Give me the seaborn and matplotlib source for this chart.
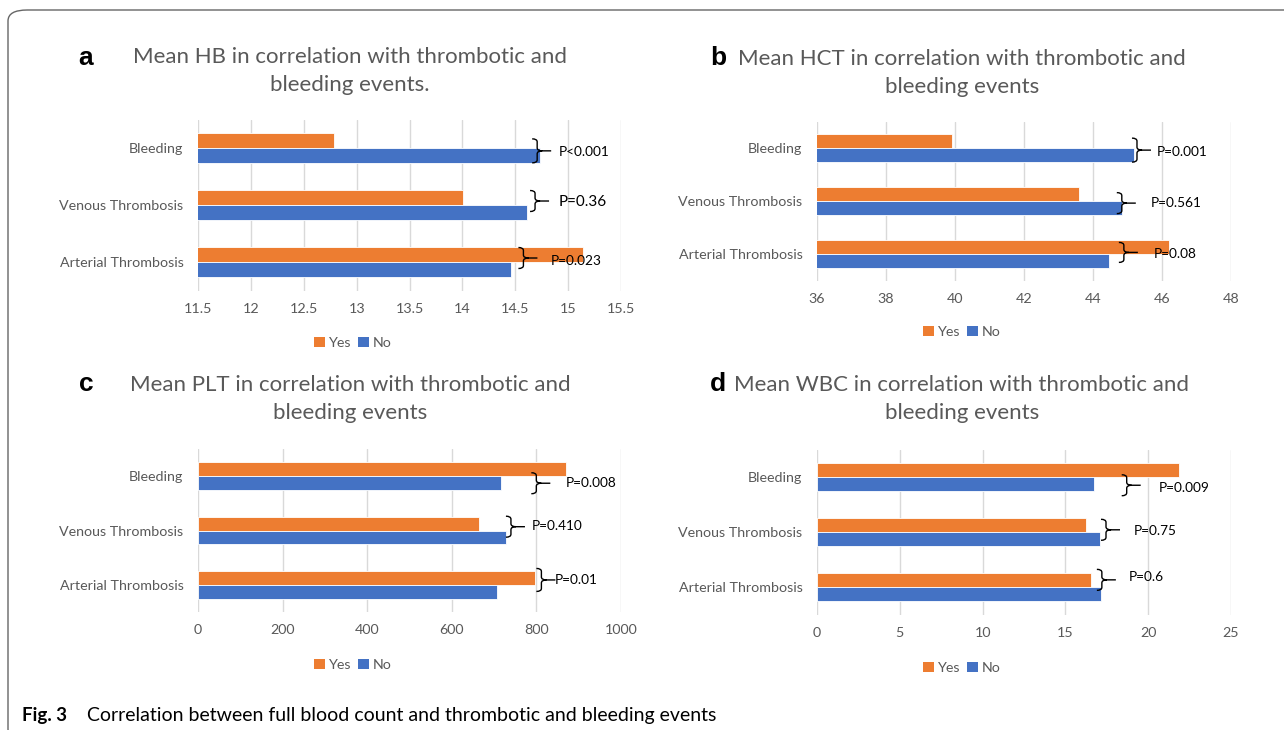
import numpy as np
import pandas as pd
import matplotlib
matplotlib.use("Agg")
import matplotlib.pyplot as plt
import seaborn as sns
from matplotlib.path import Path
from matplotlib.patches import PathPatch, FancyBboxPatch, Patch
import matplotlib.transforms as mtransforms

# ---------------- data ----------------
categories = ["Bleeding", "Venous Thrombosis", "Arterial Thrombosis"]
groups = ["Yes", "No"]

hb_yes = [12.79, 14.01, 15.14]
hb_no = [14.73, 14.61, 14.46]
hct_yes = [39.92, 43.59, 46.21]
hct_no = [45.20, 44.84, 44.47]
plt_yes = [871, 664, 796]
plt_no = [717, 728, 707]
wbc_yes = [21.87, 16.26, 16.56]
wbc_no = [16.73, 17.08, 17.15]

hb_p = ["P<0.001", "P=0.36", "P=0.023"]
hct_p = ["P=0.001", "P=0.561", "P=0.08"]
plt_p = ["P=0.008", "P=0.410", "P=0.01"]
wbc_p = ["P=0.009", "P=0.75", "P=0.6"]

hb_ticks = [11.5, 12, 12.5, 13, 13.5, 14, 14.5, 15, 15.5]
hct_ticks = [36, 38, 40, 42, 44, 46, 48]
plt_ticks = [0, 200, 400, 600, 800, 1000]
wbc_ticks = [0, 5, 10, 15, 20, 25]
hb_ticklabels = ["11.5", "12", "12.5", "13", "13.5", "14", "14.5", "15", "15.5"]

titles = ["Mean HB in correlation with thrombotic and\nbleeding events.",
          "Mean HCT in correlation with thrombotic and\nbleeding events",
          "Mean PLT in correlation with thrombotic and\nbleeding events",
          "Mean WBC in correlation with thrombotic and\nbleeding events"]
panel_letters = ["a", "b", "c", "d"]
caption_bold = "Fig. 3"
caption_text = "Correlation between full blood count and thrombotic and bleeding events"

# ---------------- style ----------------
sns.set_style("white")
plt.rcParams["font.family"] = ["Lato", "DejaVu Sans"]
ORANGE = "#ED7D31"
BLUE = "#4472C4"
GREY = "#595959"
GRID = "#D9D9D9"
palette = {"Yes": ORANGE, "No": BLUE}

W, H = 1284, 730
fig = plt.figure(figsize=(W / 100, H / 100), dpi=100)
fig.patch.set_facecolor("white")

def fx(px):
    return px / W

def fy(py):
    return 1 - py / H

# outer rounded frame
frame = FancyBboxPatch((fx(8), fy(740)), fx(1300), fy(10) - fy(740),
                       boxstyle="round,pad=0,rounding_size=0.015",
                       transform=fig.transFigure, fill=False,
                       edgecolor="#666666", linewidth=1.0, zorder=0)
fig.patches.append(frame)

panels = [
    dict(yes=hb_yes, no=hb_no, ticks=hb_ticks, labels=hb_ticklabels, p=hb_p,
         box=(198, 119.5, 621, 290.5), title_xy=(350, 71), letter_xy=(86, 58),
         legend_xy=(353, 343),
         bx=[14.66, 14.64, 14.53], bdy=[0.05, -0.07, -0.07], bh=[24, 21, 21],
         tx=[14.91, 14.91, 14.84], tdy=[0.07, -0.05, -0.02], tfs=[9.8, 11.0, 9.8]),
    dict(yes=hct_yes, no=hct_no, ticks=hct_ticks, labels=None, p=hct_p,
         box=(817, 121.5, 1231, 280.5), title_xy=(962, 73), letter_xy=(718, 58),
         legend_xy=(962, 332),
         bx=[45.13, 44.69, 44.75], bdy=[0.04, 0.04, -0.03], bh=[24, 21, 20],
         tx=[45.86, 45.67, 45.76], tdy=[0.08, 0.04, 0.0], tfs=[9.8, 9.8, 9.8]),
    dict(yes=plt_yes, no=plt_no, ticks=plt_ticks, labels=None, p=plt_p,
         box=(198, 449, 621, 612), title_xy=(350, 399), letter_xy=(86, 384),
         legend_xy=(353, 665),
         bx=[788, 728, 800], bdy=[0.13, -0.07, -0.09], bh=[21, 21, 23],
         tx=[869, 789, 844], tdy=[0.13, -0.09, -0.09], tfs=[9.8, 9.8, 9.8]),
    dict(yes=wbc_yes, no=wbc_no, ticks=wbc_ticks, labels=None, p=wbc_p,
         box=(817, 449.5, 1231, 614.5), title_xy=(962, 399), letter_xy=(718, 384),
         legend_xy=(962, 668),
         bx=[18.4, 17.15, 16.9], bdy=[0.15, -0.04, -0.13], bh=[21, 21, 21],
         tx=[20.63, 19.1, 18.8], tdy=[0.2, -0.02, -0.18], tfs=[9.8, 9.8, 9.8]),
]


def draw_brace(ax, x, y, h=22, w=10, tail=9):
    a = h / 2.0
    m = w * 0.5
    verts = [(0, a), (m, a), (m, a - 3), (m, 3), (m, 0), (w, 0),
             (m, 0), (m, -3), (m, -a + 3), (m, -a), (0, -a),
             (w, 0), (w + tail, 0)]
    codes = [Path.MOVETO, Path.CURVE3, Path.CURVE3, Path.LINETO, Path.CURVE3, Path.CURVE3,
             Path.CURVE3, Path.CURVE3, Path.LINETO, Path.CURVE3, Path.CURVE3,
             Path.MOVETO, Path.LINETO]
    trans = mtransforms.Affine2D() + mtransforms.ScaledTranslation(x, y, ax.transData)
    patch = PathPatch(Path(verts, codes), transform=trans, fill=False,
                      edgecolor="black", linewidth=1.0, zorder=5, clip_on=False)
    ax.add_patch(patch)


for i, pnl in enumerate(panels):
    x0, y0, x1, y1 = pnl["box"]
    ax = fig.add_axes([fx(x0), fy(y1), fx(x1 - x0), fy(y0) - fy(y1)])
    df = pd.DataFrame({
        "category": categories * 2,
        "group": ["Yes"] * 3 + ["No"] * 3,
        "value": list(pnl["yes"]) + list(pnl["no"]),
    })
    sns.barplot(data=df, y="category", x="value", hue="group", order=categories,
                hue_order=groups, palette=palette, orient="h", width=0.51,
                edgecolor="white", linewidth=0.6, saturation=1, legend=False, ax=ax,
                zorder=3)
    ax.set_xlim(pnl["ticks"][0], pnl["ticks"][-1])
    ax.set_ylim(2.5, -0.5)
    ax.set_xticks(pnl["ticks"])
    if pnl["labels"] is not None:
        ax.set_xticklabels(pnl["labels"])
    ax.grid(axis="x", color=GRID, linewidth=1.0, zorder=0)
    ax.grid(axis="y", visible=False)
    ax.set_axisbelow(True)
    for s in ax.spines.values():
        s.set_visible(False)
    ax.set_xlabel("")
    ax.set_ylabel("")
    ax.tick_params(axis="x", length=0, pad=9, labelsize=10.3, labelcolor=GREY)
    ax.tick_params(axis="y", length=0, pad=10.5, labelsize=10.3, labelcolor=GREY)

    for k in range(3):
        draw_brace(ax, pnl["bx"][k], k + pnl["bdy"][k], h=pnl["bh"][k])
        ax.text(pnl["tx"][k], k + pnl["tdy"][k], pnl["p"][k], fontsize=pnl["tfs"][k],
                color="black", ha="left", va="center", zorder=6)

    tx, ty = pnl["title_xy"]
    fig.text(fx(tx), fy(ty), titles[i], ha="center", va="center", fontsize=16,
             color=GREY, linespacing=1.45)
    lx, ly = pnl["letter_xy"]
    fig.text(fx(lx), fy(ly), panel_letters[i], ha="center", va="center", fontsize=19,
             fontweight="bold", color="black", family=["Liberation Sans", "DejaVu Sans"])
    handles = [Patch(facecolor=palette[g], edgecolor="none", label=g) for g in groups]
    lgx, lgy = pnl["legend_xy"]
    leg = fig.legend(handles=handles, loc="center", bbox_to_anchor=(fx(lgx), fy(lgy)),
                     ncol=2, frameon=False, fontsize=10.3, handlelength=0.75,
                     handleheight=0.75, handletextpad=0.25, columnspacing=0.5)
    for t in leg.get_texts():
        t.set_color(GREY)

fig.text(fx(22), fy(716), caption_bold, ha="left", va="center", fontsize=13.5,
         fontweight="bold", color="black")
fig.text(fx(87), fy(716), caption_text, ha="left", va="center", fontsize=14,
         color="black")

fig.savefig("out.png", dpi=100)
